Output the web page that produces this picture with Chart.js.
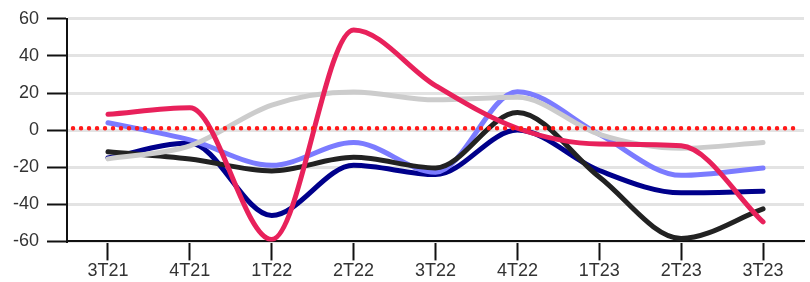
<!DOCTYPE html>
<html>
<head>
<meta charset="utf-8">
<script src="https://cdn.jsdelivr.net/npm/chart.js@4"></script>
<style>
  html, body { margin: 0; padding: 0; background: #fff; }
  #wrap { width: 810px; height: 282px; }
</style>
</head>
<body>
<div id="wrap"><canvas id="quarterChart"></canvas></div>
<script>
const quarters = ["3T21","4T21","1T22","2T22","3T22","4T22","1T23","2T23","3T23"];
const yTicks = [-60, -40, -20, 0, 20, 40, 60];

// series
const crimsonSeries = [8.5, 12, -59, 54, 24, 1, -7.5, -8.5, -49.5];
const graySeries = [-15.5, -8.5, 13.5, 20.5, 16.3, 17.7, -2.3, -9.8, -6.7];
const blackSeries = [-11.7, -15.6, -22, -14.7, -20.4, 9.5, -25.3, -58.4, -42.5];
const lightBlueSeries = [4, -5.3, -19, -6.7, -22.7, 20.7, -2.3, -24.4, -20.4];
const navySeries = [-15, -7, -46, -19, -24, 0, -21.8, -33.8, -33];
const referenceLevel = 1;

// dotted red reference line
const refLinePlugin = {
    id: 'refLine',
    afterDatasetsDraw(chart) {
        const {ctx, chartArea, scales} = chart;
        const y = scales.y.getPixelForValue(referenceLevel);
        ctx.save();
        ctx.strokeStyle = '#ff1a1a';
        ctx.lineWidth = 4.5;
        ctx.lineCap = 'round';
        ctx.setLineDash([0, 8]);
        ctx.beginPath();
        ctx.moveTo(chartArea.left + 6, y);
        ctx.lineTo(chartArea.right - 10, y);
        ctx.stroke();
        ctx.restore();
    }
};

function line(data, color) {
    return {
        data: data,
        borderColor: color,
        backgroundColor: color,
        borderWidth: 5,
        borderCapStyle: 'round',
        borderJoinStyle: 'round',
        pointRadius: 0,
        cubicInterpolationMode: 'monotone',
        fill: false
    };
}

Chart.defaults.font.family = '"Liberation Sans", Arial, sans-serif';
Chart.defaults.font.size = 18;
Chart.defaults.color = '#333';

new Chart(document.getElementById('quarterChart').getContext('2d'), {
    type: 'line',
    data: {
        labels: quarters,
        datasets: [
            line(crimsonSeries, '#e8215b'),
            line(graySeries, '#cccccc'),
            line(blackSeries, '#222222'),
            line(lightBlueSeries, '#7b7bff'),
            line(navySeries, '#00008b')
        ]
    },
    options: {
        responsive: true,
        maintainAspectRatio: false,
        animation: false,
        layout: { padding: { top: 4, left: 5, right: 6, bottom: 0 } },
        plugins: {
            legend: { display: false },
            tooltip: { enabled: false }
        },
        scales: {
            x: {
                offset: true,
                grid: {
                    drawOnChartArea: false,
                    tickLength: 19,
                    tickColor: '#111',
                    tickWidth: 2,
                    offset: false
                },
                border: { color: '#111', width: 2 },
                ticks: { padding: 0, maxRotation: 0 }
            },
            y: {
                min: -60,
                max: 60,
                afterBuildTicks(axis) {
                    axis.ticks = yTicks.map(v => ({ value: v }));
                },
                grid: {
                    color: '#e3e3e3',
                    lineWidth: 3,
                    tickLength: 20,
                    tickColor: '#111',
                    tickWidth: 2
                },
                border: { color: '#111', width: 2 },
                ticks: { padding: 8 }
            }
        }
    },
    plugins: [refLinePlugin]
});
</script>
</body>
</html>
